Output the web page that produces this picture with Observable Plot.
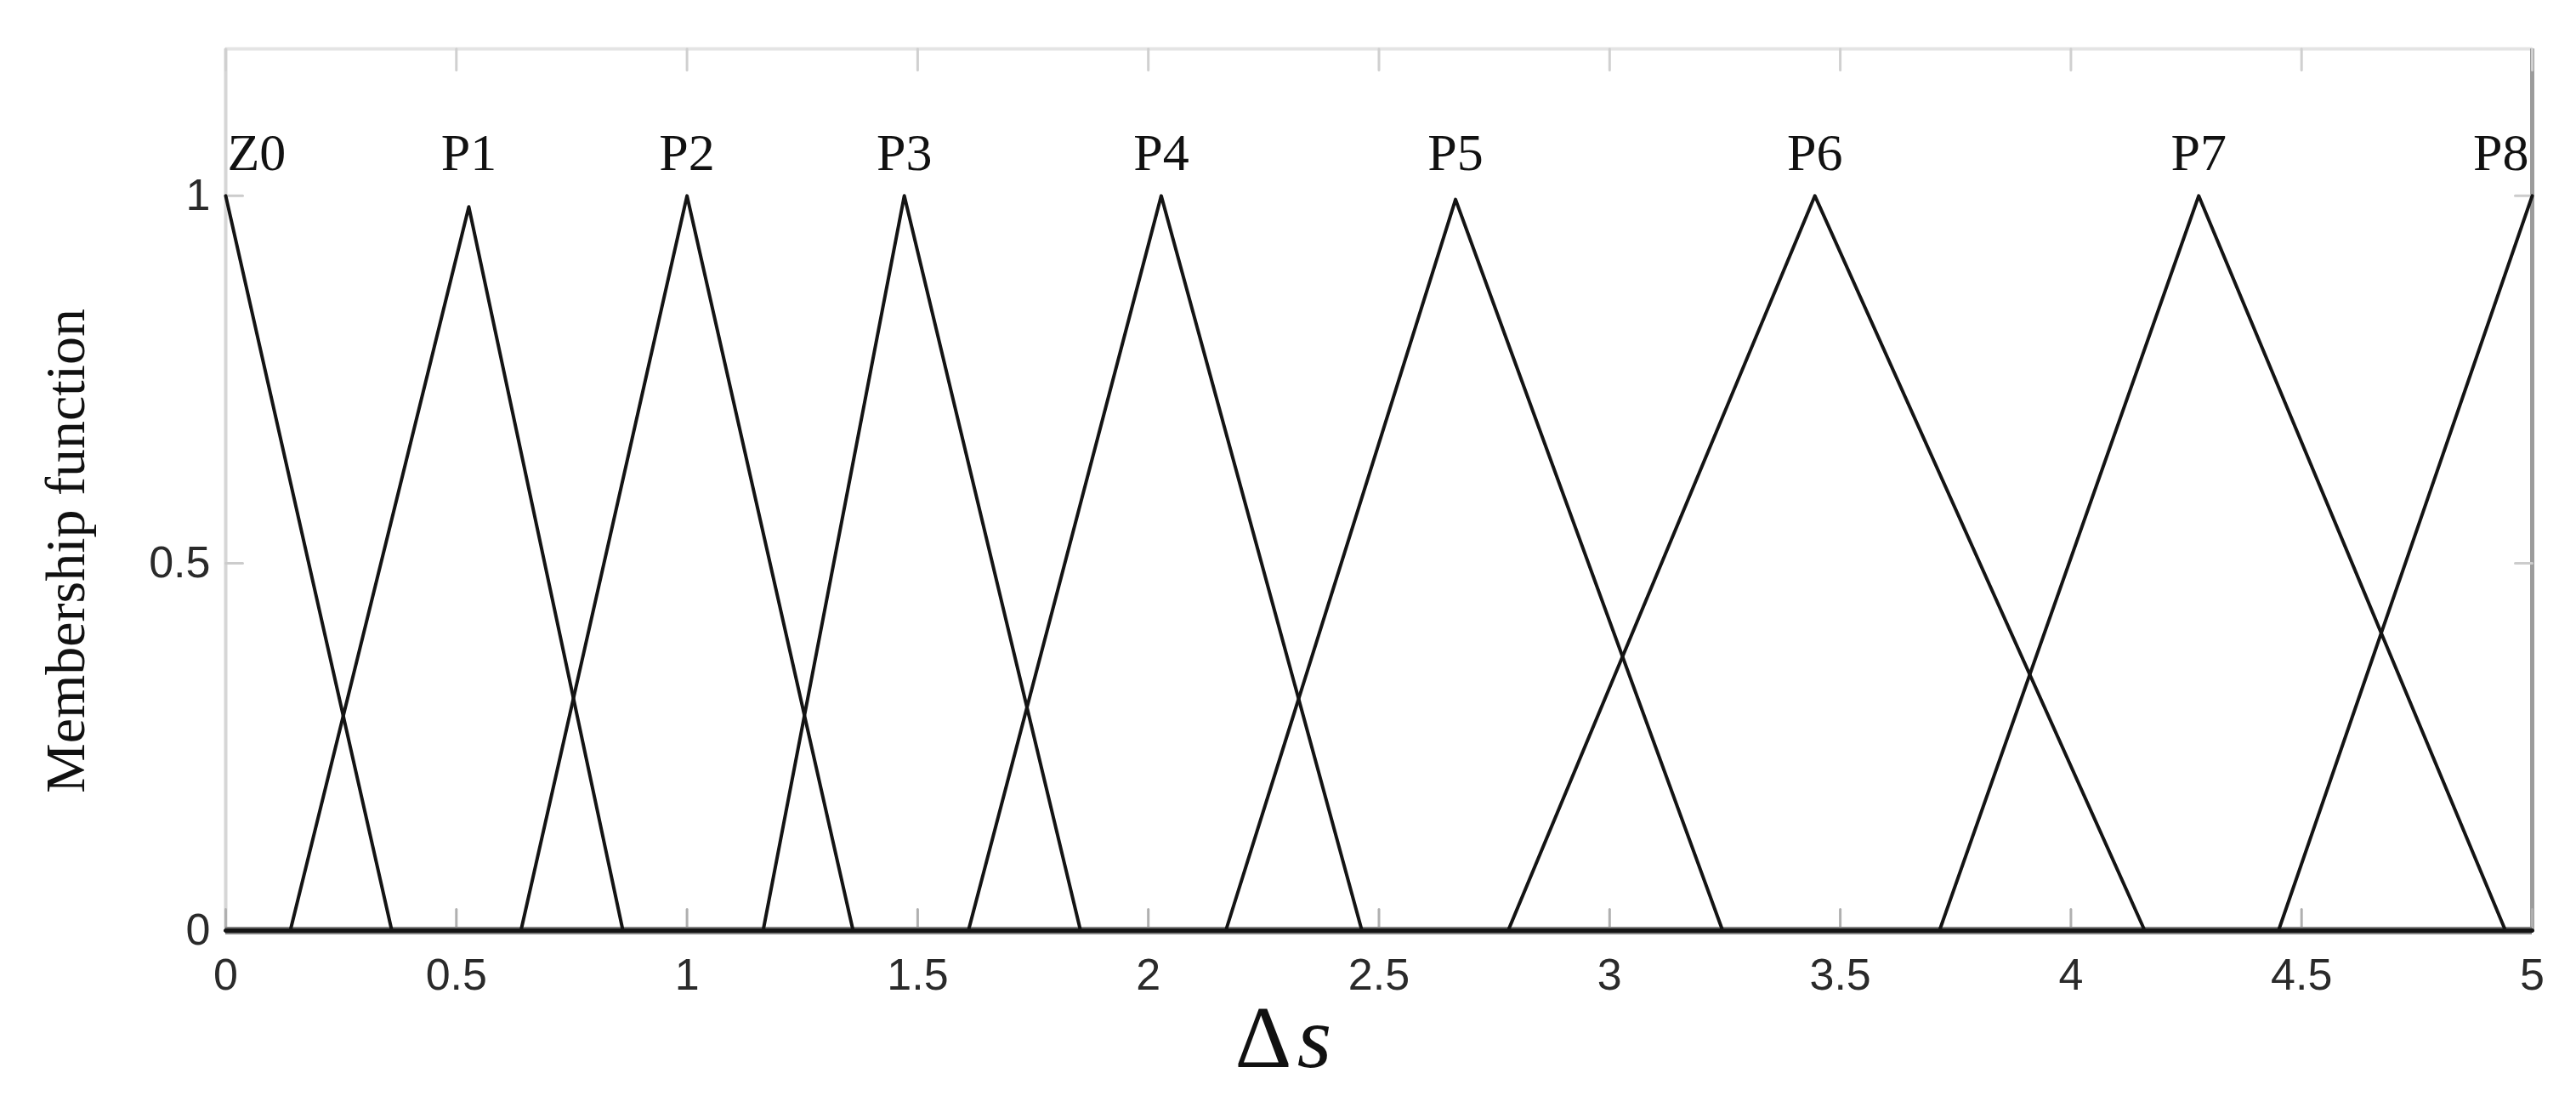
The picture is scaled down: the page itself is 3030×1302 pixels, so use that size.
<!DOCTYPE html>
<html>
<head>
<meta charset="utf-8">
<script src="https://cdn.jsdelivr.net/npm/d3@7"></script>
<script src="https://cdn.jsdelivr.net/npm/@observablehq/plot@0.6"></script>
<style>
  html, body { margin: 0; padding: 0; background: #fff; }
  #chart { width: 3030px; height: 1302px; }
</style>
</head>
<body>
<div id="chart"></div>
<script>
// ---- data ----
const names      = ["Z0", "P1", "P2", "P3", "P4", "P5", "P6", "P7", "P8"];
const footLeft   = [0,    0.14,  0.64, 1.165, 1.61,  2.168, 2.78,  3.715, 4.45];
const peakAt     = [0,    0.527, 1.0,  1.471, 2.028, 2.666, 3.445, 4.277, 5.0];
const footRight  = [0.36, 0.861, 1.36, 1.853, 2.463, 3.245, 4.16,  4.942, 5.0];
const peakValue  = [1,    0.985, 1,    1,     1,     0.995, 1,     1,     1];
const xDomain    = [0, 5];
const yDomain    = [0, 1.2];
const xTicks     = [0, 0.5, 1, 1.5, 2, 2.5, 3, 3.5, 4, 4.5, 5];
const yTicks     = [0, 0.5, 1];
const yLabel     = "Membership function";
const xLabelMain = "Δ";
const xLabelSub  = "s";

// ---- build polylines (each function spans the whole universe [0,5]) ----
const points = [];
names.forEach((name, i) => {
  const a = footLeft[i], b = peakAt[i], c = footRight[i], h = peakValue[i];
  if (a < b) {
    if (a > xDomain[0]) points.push({name, x: xDomain[0], y: 0});
    points.push({name, x: a, y: 0});
  }
  points.push({name, x: b, y: h});
  if (c > b) {
    points.push({name, x: c, y: 0});
    if (c < xDomain[1]) points.push({name, x: xDomain[1], y: 0});
  }
});
const labels = names.map((name, i) => ({name, x: peakAt[i]}));

const tickShape = { draw(ctx, l) { ctx.moveTo(0, 0); ctx.lineTo(0, -l); } };
const serif = "'Liberation Serif', 'Times New Roman', serif";

const chart = Plot.plot({
  width: 3030,
  height: 1302,
  marginLeft: 265,
  marginRight: 52,
  marginTop: 57,
  marginBottom: 208,
  style: { fontFamily: "'Liberation Sans', Arial, sans-serif", background: "#fff", overflow: "visible" },
  x: { domain: xDomain, label: null },
  y: { domain: yDomain, label: null },
  marks: [
    // frame
    Plot.ruleY([yDomain[1]], { stroke: "#e4e4e4", strokeWidth: 4 }),
    Plot.ruleX([xDomain[0]], { stroke: "#d6d6d6", strokeWidth: 4 }),
    Plot.ruleX([xDomain[1]], { stroke: "#9c9c9c", strokeWidth: 5 }),
    // inward ticks
    Plot.vector(xTicks, { x: d => d, frameAnchor: "bottom", length: 25, anchor: "start", rotate: 0, shape: tickShape, stroke: "#b0b0b0", strokeWidth: 3 }),
    Plot.vector(xTicks, { x: d => d, frameAnchor: "top", length: 25, anchor: "start", rotate: 180, shape: tickShape, stroke: "#d0d0d0", strokeWidth: 3 }),
    Plot.vector(yTicks, { y: d => d, frameAnchor: "left", length: 20, anchor: "start", rotate: 90, shape: tickShape, stroke: "#cccccc", strokeWidth: 3 }),
    Plot.vector(yTicks, { y: d => d, frameAnchor: "right", length: 20, anchor: "start", rotate: -90, shape: tickShape, stroke: "#cccccc", strokeWidth: 3 }),
    // bottom axis line
    Plot.ruleY([0], { stroke: "#808080", strokeWidth: 9 }),
    // membership functions
    Plot.line(points, { x: "x", y: "y", z: "name", stroke: "#141414", strokeWidth: 4, curve: "linear" }),
    // axes text
    Plot.axisX(xTicks, { tickSize: 0, tickPadding: 33, tickFormat: d => String(d), fontSize: 52, fill: "#2a2a2a", label: null }),
    Plot.axisY(yTicks, { tickSize: 0, tickPadding: 18, tickFormat: d => String(d), fontSize: 52, fill: "#2a2a2a", label: null }),
    // function names
    Plot.text(labels.slice(0, 1), { x: "x", y: () => 1, text: "name", textAnchor: "start", lineAnchor: "bottom", dy: -30, dx: 2, fontFamily: serif, fontSize: 62, fill: "#111" }),
    Plot.text(labels.slice(1, -1), { x: "x", y: () => 1, text: "name", textAnchor: "middle", lineAnchor: "bottom", dy: -30, fontFamily: serif, fontSize: 62, fill: "#111" }),
    Plot.text(labels.slice(-1), { x: "x", y: () => 1, text: "name", textAnchor: "end", lineAnchor: "bottom", dy: -30, dx: -4, fontFamily: serif, fontSize: 62, fill: "#111" }),
    // axis titles
    Plot.text([yLabel], { text: d => d, frameAnchor: "left", textAnchor: "middle", lineAnchor: "middle", rotate: -90, dx: -188, dy: 72, fontFamily: serif, fontSize: 66, fill: "#111" }),
    Plot.text([xLabelMain], { text: d => d, frameAnchor: "bottom", textAnchor: "middle", lineAnchor: "bottom", dx: -136, dy: 160, fontFamily: serif, fontSize: 104, fill: "#111" }),
    Plot.text([xLabelSub], { text: d => d, frameAnchor: "bottom", textAnchor: "middle", lineAnchor: "bottom", dx: -76, dy: 160, fontFamily: serif, fontStyle: "italic", fontSize: 104, fill: "#111" })
  ]
});
document.getElementById("chart").appendChild(chart);
</script>
</body>
</html>
